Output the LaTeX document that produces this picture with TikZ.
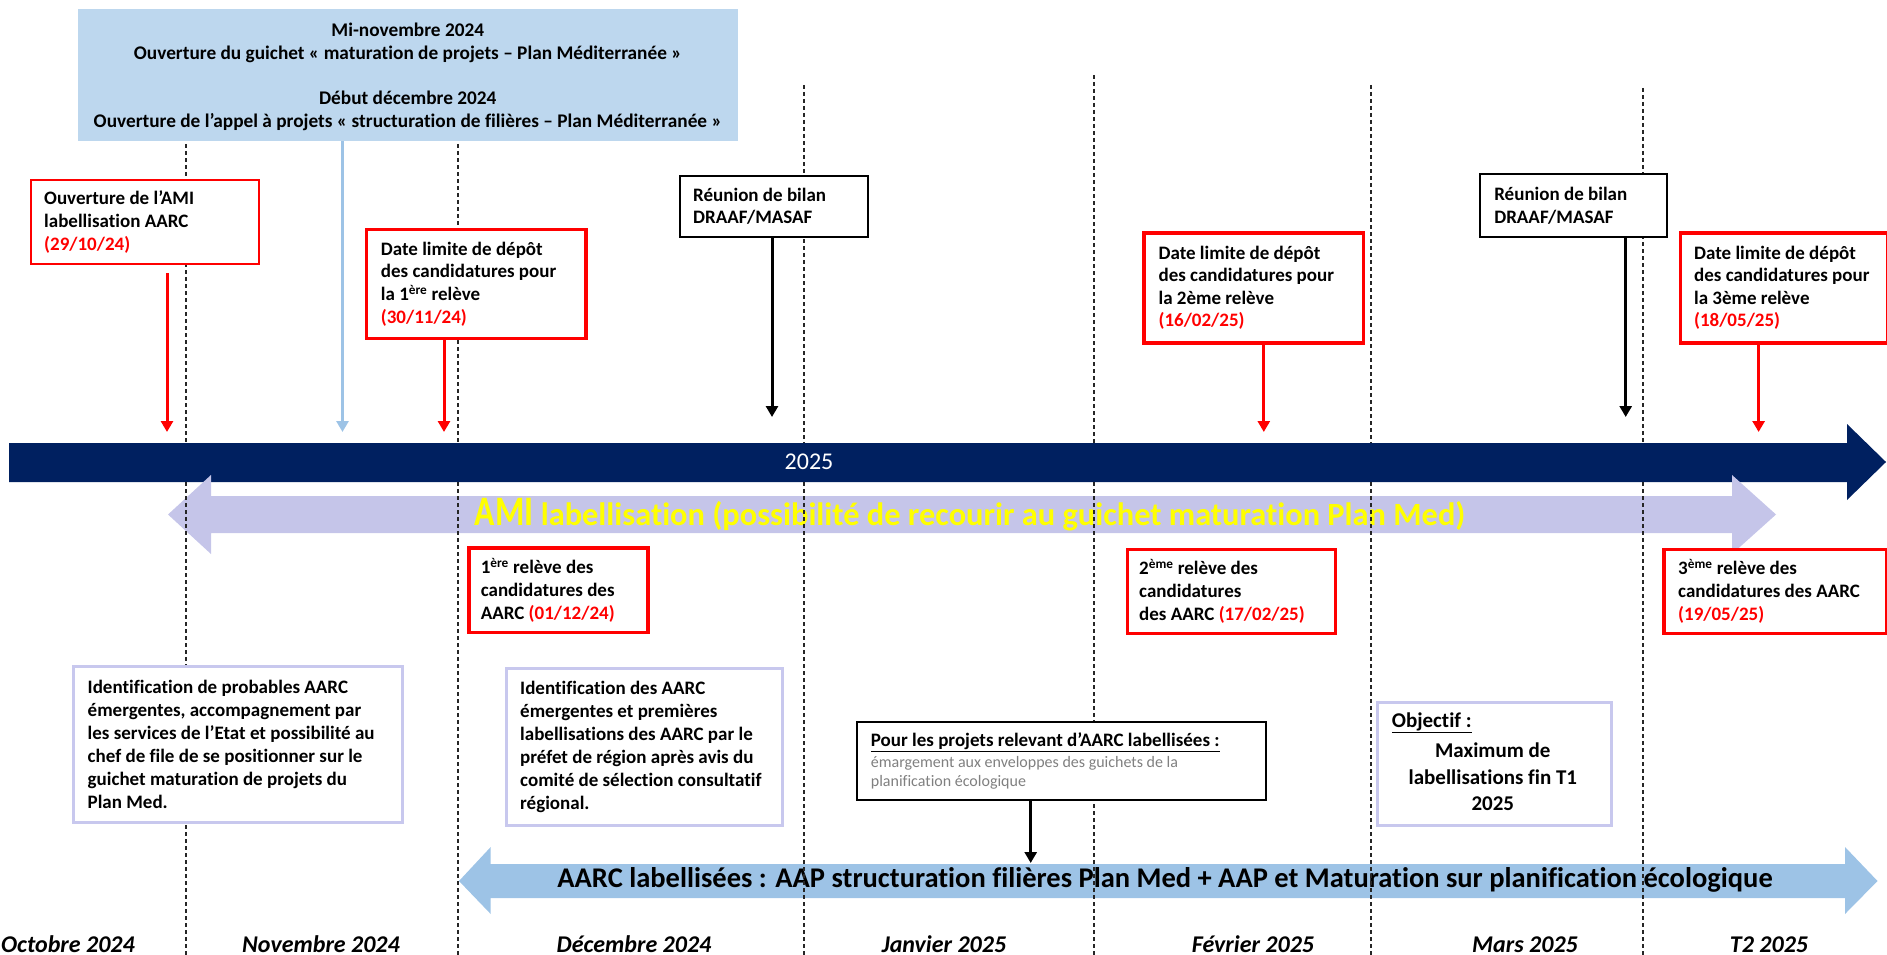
\documentclass[tikz,border=0pt]{standalone}
\usepackage{fontspec}
\setmainfont{Carlito}[Ligatures={NoCommon}]
\usetikzlibrary{arrows.meta}
\definecolor{navy}{RGB}{0,32,96}
\definecolor{lav}{RGB}{197,197,233}
\definecolor{lavborder}{RGB}{200,200,238}
\definecolor{lblue}{RGB}{157,195,230}
\definecolor{topblue}{RGB}{189,215,238}
\definecolor{grayt}{RGB}{128,128,128}
\definecolor{myred}{RGB}{255,0,0}
\definecolor{myyellow}{RGB}{255,255,0}
\newcommand{\fsz}[2]{\fontsize{#1}{#2}\selectfont}
\begin{document}
\begin{tikzpicture}[x=1pt,y=-1pt,
  frame/.style={anchor=north west, fill=white, inner sep=0pt},
  redthin/.style={frame, draw=myred, line width=2pt},
  redthick/.style={frame, draw=myred, line width=3.5pt},
  blackbox/.style={frame, draw=black, line width=2pt},
  lavbox/.style={frame, draw=lavborder, line width=3pt},
  boxtext/.style={anchor=west, inner sep=0pt, align=left, font=\fsz{19}{22.6}\bfseries},
  reltext/.style={anchor=west, inner sep=0pt, align=left, font=\fsz{19}{23}\bfseries},
  grid/.style={draw=black!85, line width=1.2pt, dash pattern=on 4pt off 3pt},
  redarr/.style={draw=myred, line width=3pt, -{Triangle[width=12pt,length=11pt]}},
  blackarr/.style={draw=black, line width=3pt, -{Triangle[width=12pt,length=11pt]}},
  bluearr/.style={draw=lblue, line width=3pt, -{Triangle[width=12pt,length=11pt]}},
  month/.style={anchor=base, inner sep=0pt, font=\fsz{24}{24}\bfseries\itshape}
]
\useasboundingbox (0,0) rectangle (1887,955);

% navy timeline arrow
\fill[navy] (9,443) -- (1847,443) -- (1847,424) -- (1886,462) -- (1847,500) -- (1847,482) -- (9,482) -- cycle;
\node[text=white, font=\fsz{24}{24}, inner sep=0pt] (year) at (809,462) {2025};

% lavender double arrow
\fill[lav] (168,514.5) -- (211,475) -- (211,496) -- (1732,496) -- (1732,475) -- (1776,514.5) -- (1732,554) -- (1732,533) -- (211,533) -- (211,554) -- cycle;
\node[text=myyellow, font=\fsz{32.4}{32.4}\bfseries, inner sep=0pt] (ami-band) at (970,515) {\scalebox{0.8}[1]{\fsz{42}{42}AMI} labellisation (possibilité de recourir au guichet maturation Plan Med)};

% light blue double arrow
\fill[lblue] (459,881) -- (490.7,847) -- (490.7,864) -- (1845,864) -- (1845,847) -- (1877.5,881) -- (1845,914) -- (1845,898) -- (490.7,898) -- (490.7,914) -- cycle;
\node[text=black, font=\fsz{28.5}{28.5}\bfseries, inner sep=0pt] (aarc-band) at (1165,880) {AARC labellisées : AAP structuration filières Plan Med + AAP et Maturation sur planification écologique};

% month grid lines
\foreach \gx/\gy in {186/130, 458/130, 804/85, 1094/75, 1371/85, 1643/88} {
  \draw[grid] (\gx,\gy) -- (\gx,443);
  \draw[grid] (\gx,482) -- (\gx,955);
}

% top blue box
\node[anchor=north west, fill=topblue, inner sep=0pt, minimum width=660pt, minimum height=131.4pt] (topbox) at (77.6,9.3) {};
\node[align=center, inner sep=0pt, font=\fsz{19.3}{22.7}\bfseries] (topbox-t) at ([yshift=-1.5pt]topbox.center) {Mi-novembre 2024\\Ouverture du guichet « maturation de projets – Plan Méditerranée »\\[22.7pt]Début décembre 2024\\Ouverture de l’appel à projets « structuration de filières – Plan Méditerranée »};

% upper boxes
\node[redthin, minimum width=227.5pt, minimum height=84pt] (ami) at (30,179) {};
\node[boxtext] (ami-t) at ([xshift=14pt]ami.west) {Ouverture de l’AMI\\labellisation AARC\\\textcolor{myred}{(29/10/24)}};

\node[redthick, minimum width=219.7pt, minimum height=109pt] (dl1) at (364.7,227.7) {};
\node[boxtext] (dl1-t) at ([xshift=16pt]dl1.west) {Date limite de dépôt\\des candidatures pour\\la 1\textsuperscript{ère} relève\\\textcolor{myred}{(30/11/24)}};

\node[blackbox, minimum width=187.5pt, minimum height=60.7pt] (reu1) at (679,175) {};
\node[boxtext] (reu1-t) at ([xshift=14pt]reu1.west) {Réunion de bilan\\DRAAF/MASAF};

\node[redthick, minimum width=219.4pt, minimum height=110pt] (dl2) at (1142.4,231) {};
\node[boxtext] (dl2-t) at ([xshift=16pt]dl2.west) {Date limite de dépôt\\des candidatures pour\\la 2ème relève\\\textcolor{myred}{(16/02/25)}};

\node[blackbox, minimum width=187.4pt, minimum height=62.4pt] (reu2) at (1478.6,173.3) {};
\node[boxtext] (reu2-t) at ([xshift=15.5pt]reu2.west) {Réunion de bilan\\DRAAF/MASAF};

\node[redthick, minimum width=207pt, minimum height=110pt] (dl3) at (1678.9,231) {};
\node[boxtext] (dl3-t) at ([xshift=15pt]dl3.west) {Date limite de dépôt\\des candidatures pour\\la 3ème relève\\\textcolor{myred}{(18/05/25)}};

% relève boxes
\node[redthick, minimum width=179pt, minimum height=84.7pt] (rel1) at (467,546) {};
\node[reltext] (rel1-t) at ([xshift=13.6pt]rel1.west) {1\textsuperscript{ère} relève des\\candidatures des\\AARC \textcolor{myred}{(01/12/24)}};

\node[redthick, minimum width=208pt, minimum height=84pt] (rel2) at (1125.5,547.7) {};
\node[reltext] (rel2-t) at ([xshift=13.5pt]rel2.west) {2\textsuperscript{ème} relève des\\candidatures\\des AARC \textcolor{myred}{(17/02/25)}};

\node[redthick, minimum width=223pt, minimum height=84pt] (rel3) at (1662,547.7) {};
\node[reltext] (rel3-t) at ([xshift=16pt]rel3.west) {3\textsuperscript{ème} relève des\\candidatures des AARC\\\textcolor{myred}{(19/05/25)}};

% lower boxes
\node[lavbox, minimum width=329pt, minimum height=156pt] (ident1) at (72,665) {};
\node[boxtext, font=\fsz{19}{23}\bfseries] (ident1-t) at ([xshift=15.5pt]ident1.west) {Identification de probables AARC\\émergentes, accompagnement par\\les services de l’Etat et possibilité au\\chef de file de se positionner sur le\\guichet maturation de projets du\\Plan Med.};

\node[lavbox, minimum width=275.6pt, minimum height=157pt] (ident2) at (505,667) {};
\node[boxtext, font=\fsz{19}{23}\bfseries] (ident2-t) at ([xshift=15pt]ident2.west) {Identification des AARC\\émergentes et premières\\labellisations des AARC par le\\préfet de région après avis du\\comité de sélection consultatif\\régional.};

\node[blackbox, minimum width=409pt, minimum height=78pt] (pour) at (856,721) {};
\node[anchor=west, inner sep=0pt, align=left, font=\fsz{16}{19.5}] (pour-t) at ([xshift=14.7pt]pour.west) {{\fsz{19}{21}\bfseries\underline{Pour les projets relevant d’AARC labellisées :}}\\[1.5pt]{\color{grayt}émargement aux enveloppes des guichets de la}\\{\color{grayt}planification écologique}};

\node[lavbox, minimum width=234.4pt, minimum height=123pt] (obj) at (1375.6,701) {};
\node[anchor=west, inner sep=0pt, font=\fsz{21}{26.5}\bfseries] (obj-h) at (1391.6,723) {\underline{Objectif :}};
\node[align=center, inner sep=0pt, font=\fsz{21}{26.5}\bfseries] (obj-t) at (1492.8,777) {Maximum de\\labellisations fin T1\\2025};

% connector end points
\coordinate (e-ami) at (167,432);
\coordinate (e-top) at (342.5,432);
\coordinate (e-dl1) at (444,432);
\coordinate (e-reu1) at (772,417);
\coordinate (e-dl2) at (1263.8,432);
\coordinate (e-reu2) at (1625.7,417);
\coordinate (e-dl3) at (1758.6,432);
\coordinate (e-pour) at (1030.7,863);

\draw[redarr, shorten <=8pt] (ami.south -| e-ami) -- (e-ami);
\draw[bluearr] (topbox.south -| e-top) -- (e-top);
\draw[redarr] (dl1.south -| e-dl1) -- (e-dl1);
\draw[blackarr] (reu1.south -| e-reu1) -- (e-reu1);
\draw[redarr] (dl2.south -| e-dl2) -- (e-dl2);
\draw[blackarr] (reu2.south -| e-reu2) -- (e-reu2);
\draw[redarr] (dl3.south -| e-dl3) -- (e-dl3);
\draw[blackarr] (pour.south -| e-pour) -- (e-pour);

% month labels
\node[month] (m1) at (68,952) {Octobre 2024};
\node[month] (m2) at (321,952) {Novembre 2024};
\node[month] (m3) at (634,952) {Décembre 2024};
\node[month] (m4) at (944,952) {Janvier 2025};
\node[month] (m5) at (1253,952) {Février 2025};
\node[month] (m6) at (1525,952) {Mars 2025};
\node[month] (m7) at (1769,952) {T2 2025};
\end{tikzpicture}
\end{document}
